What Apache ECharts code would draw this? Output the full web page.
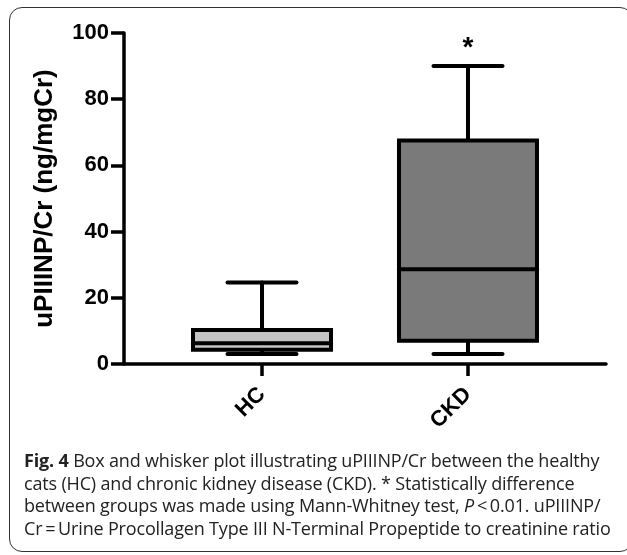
<!DOCTYPE html>
<html>
<head>
    <meta charset="utf-8">
    <title>uPIIINP/Cr box plot</title>
    <script src="https://cdn.jsdelivr.net/npm/echarts@6.0.0/dist/echarts.min.js"></script>
    <style>
        body { margin: 0; background: #fff; }
        #wrap { position: relative; width: 627px; height: 555px; overflow: hidden; }
        #frame { position: absolute; left: 9px; top: 7px; width: 622px; height: 543px;
                 border: 1.5px solid #333; border-radius: 13px; }
        #main { position: absolute; left: 0; top: 0; width: 627px; height: 555px; }
        #caption { position: absolute; left: 24px; top: 449px; width: 600px;
                   font-family: "Open Sans", sans-serif; font-size: 18px; line-height: 22.5px;
                   letter-spacing: -0.17px; color: #222; white-space: nowrap; }
    </style>
</head>
<body>
<div id="wrap">
    <div id="frame"></div>
    <div id="main"></div>
    <div id="caption">
        <b>Fig. 4</b> Box and whisker plot illustrating uPIIINP/Cr between the healthy<br>
        cats (HC) and chronic kidney disease (CKD). * Statistically difference<br>
        between groups was made using Mann-Whitney test, <i>P</i>&thinsp;&lt;&thinsp;0.01. uPIIINP/<br>
        Cr&thinsp;=&thinsp;Urine Procollagen Type III N-Terminal Propeptide to creatinine ratio
    </div>
</div>
<script type="text/javascript">
    // groups and their five-number summaries: min, Q1, median, Q3, max
    var categories = ['HC', 'CKD'];
    var minValues = [3.0, 3.0];
    var q1Values = [4.3, 7.0];
    var medianValues = [6.3, 28.6];
    var q3Values = [10.3, 67.5];
    var maxValues = [24.6, 90.0];
    var marks = ['', '*'];
    var yTicks = [0, 20, 40, 60, 80, 100];

    var fills = ['#c4c4c4', '#7a7a7a'];
    var boxWidth = 0.67;   // in x units

    var boxData = categories.map(function (c, i) {
        return [i + 1, minValues[i], q1Values[i], medianValues[i], q3Values[i], maxValues[i]];
    });

    var myChart = echarts.init(document.getElementById('main'));

    function renderBox(params, api) {
        var x = api.value(0);
        var pMin = api.coord([x, api.value(1)]);
        var pQ1 = api.coord([x, api.value(2)]);
        var pMed = api.coord([x, api.value(3)]);
        var pQ3 = api.coord([x, api.value(4)]);
        var pMax = api.coord([x, api.value(5)]);
        var half = api.size([boxWidth, 0])[0] / 2;
        var cap = half / 2;
        var cx = pMed[0];
        var line = { stroke: '#000', lineWidth: 4, lineCap: 'round' };
        var children = [
            { type: 'line', shape: { x1: cx, y1: pQ3[1], x2: cx, y2: pMax[1] }, style: line },
            { type: 'line', shape: { x1: cx - cap, y1: pMax[1], x2: cx + cap, y2: pMax[1] }, style: line },
            { type: 'line', shape: { x1: cx, y1: pQ1[1], x2: cx, y2: pMin[1] }, style: line },
            { type: 'line', shape: { x1: cx - cap, y1: pMin[1], x2: cx + cap, y2: pMin[1] }, style: line },
            { type: 'rect', shape: { x: cx - half, y: pQ3[1], width: half * 2, height: pQ1[1] - pQ3[1] },
              style: { fill: fills[params.dataIndex], stroke: '#000', lineWidth: 4 } },
            { type: 'line', shape: { x1: cx - half, y1: pMed[1], x2: cx + half, y2: pMed[1] }, style: line }
        ];
        var m = marks[params.dataIndex];
        if (m) {
            children.push({ type: 'text', x: cx, y: pMax[1] - 18,
                style: { text: m, fill: '#000', font: 'bold 28px "Liberation Sans"', align: 'center', verticalAlign: 'middle' } });
        }
        return { type: 'group', children: children };
    }

    var option = {
        animation: false,
        grid: { left: 124, right: 21, top: 33, bottom: 191 },
        xAxis: {
            type: 'value',
            min: 1 - 0.67,
            max: 2 + 0.67,
            splitLine: { show: false },
            axisLine: { show: true, onZero: false, lineStyle: { color: '#000', width: 3.5 } },
            axisTick: { show: true, customValues: [1, 2], length: 12, lineStyle: { color: '#000', width: 3.5 } },
            axisLabel: {
                customValues: [1, 2],
                formatter: function (v) { return categories[Math.round(v) - 1]; },
                rotate: 45,
                margin: 27,
                color: '#000',
                fontFamily: 'Liberation Sans',
                fontWeight: 'bold',
                fontSize: 22
            }
        },
        yAxis: {
            type: 'value',
            min: 0,
            max: 100,
            interval: 20,
            name: 'uPIIINP/Cr (ng/mgCr)',
            nameLocation: 'middle',
            nameGap: 66,
            nameTextStyle: { color: '#000', fontFamily: 'Liberation Sans', fontWeight: 'bold', fontSize: 26 },
            splitLine: { show: false },
            axisLine: { show: true, lineStyle: { color: '#000', width: 3.5 } },
            axisTick: { show: true, length: 13, lineStyle: { color: '#000', width: 3.5 } },
            axisLabel: {
                margin: 15,
                color: '#000',
                fontFamily: 'Liberation Sans',
                fontWeight: 'bold',
                fontSize: 22,
                formatter: function (v) { return yTicks.indexOf(v) >= 0 ? String(v) : ''; }
            }
        },
        series: [{
            type: 'custom',
            renderItem: renderBox,
            encode: { x: 0, y: [1, 2, 3, 4, 5] },
            data: boxData
        }]
    };

    myChart.setOption(option);
</script>
</body>
</html>
